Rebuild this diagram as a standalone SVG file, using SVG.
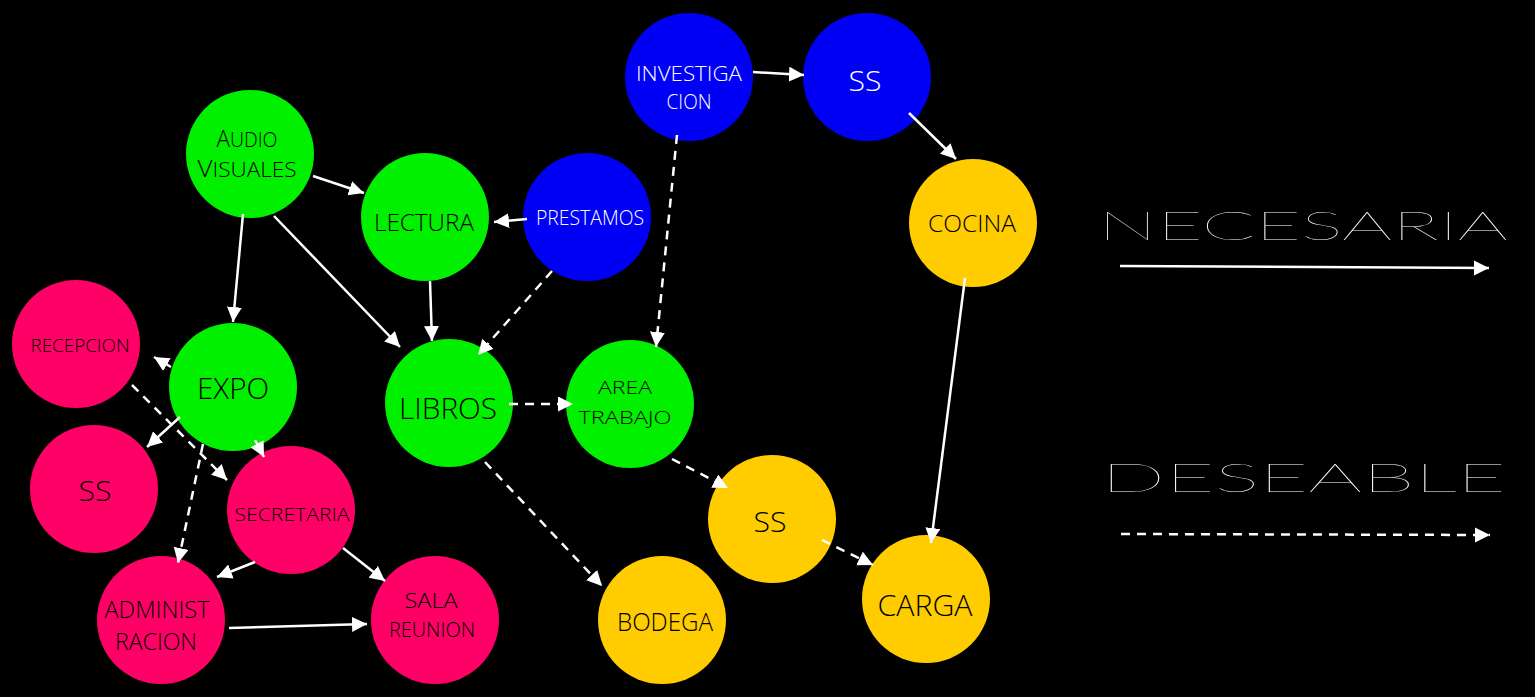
<svg xmlns="http://www.w3.org/2000/svg" width="1535" height="697" viewBox="0 0 1535 697">
<style>
.g{fill:#00f000}
.p{fill:#ff0066}
.b{fill:#0000f5}
.y{fill:#ffcc00}
text{font-family:"Open Sans","Liberation Sans",Arial,sans-serif;font-weight:300;text-anchor:middle;fill:#000}
.w{fill:#fff}
.c{stroke:#fff;stroke-width:2.5;fill:none;marker-end:url(#ah)}
.d{stroke-dasharray:9 7}
.leg{font-family:Lato,"Liberation Sans",sans-serif;font-weight:100;fill:#fff;text-anchor:start}
</style>
<defs>
<marker id="ah" markerUnits="userSpaceOnUse" markerWidth="16" markerHeight="16" refX="15" refY="7.5" orient="auto" viewBox="0 0 16 16">
<path d="M0,0 L15,7.5 L0,15 z" fill="#fff"/>
</marker>
</defs>
<rect width="1535" height="697" fill="#000"/>

<g id="n-audiovisuales"><circle cx="250" cy="154" r="64" class="g"/>
<text x="247" y="147" textLength="61" lengthAdjust="spacingAndGlyphs"><tspan font-size="23">A</tspan><tspan font-size="20">UDIO</tspan></text>
<text x="247" y="177" textLength="99" lengthAdjust="spacingAndGlyphs"><tspan font-size="23">V</tspan><tspan font-size="20">ISUALES</tspan></text></g>
<g id="n-lectura"><circle cx="425" cy="217" r="64" class="g"/>
<text x="424" y="231" font-size="23" textLength="100" lengthAdjust="spacingAndGlyphs">LECTURA</text></g>
<g id="n-prestamos"><circle cx="587" cy="217" r="64" class="b"/>
<text x="590" y="225" font-size="20" class="w" textLength="108" lengthAdjust="spacingAndGlyphs">PRESTAMOS</text></g>
<g id="n-investigacion"><circle cx="689" cy="77" r="64" class="b"/>
<text x="689" y="81" font-size="21" class="w" textLength="106" lengthAdjust="spacingAndGlyphs">INVESTIGA</text>
<text x="689" y="109" font-size="21" class="w" textLength="45" lengthAdjust="spacingAndGlyphs">CION</text></g>
<g id="n-ss-blue"><circle cx="867" cy="77" r="64" class="b"/>
<text x="865" y="91" font-size="28" class="w" textLength="33" lengthAdjust="spacingAndGlyphs">SS</text></g>
<g id="n-cocina"><circle cx="973" cy="223" r="64" class="y"/>
<text x="972" y="232" font-size="24" textLength="88" lengthAdjust="spacingAndGlyphs">COCINA</text></g>
<g id="n-recepcion"><circle cx="76" cy="344" r="64" class="p"/>
<text x="80" y="352" font-size="19" textLength="99" lengthAdjust="spacingAndGlyphs">RECEPCION</text></g>
<g id="n-expo"><circle cx="233" cy="387" r="64" class="g"/>
<text x="233" y="399" font-size="30" textLength="72" lengthAdjust="spacingAndGlyphs">EXPO</text></g>
<g id="n-libros"><circle cx="449" cy="403" r="64" class="g"/>
<text x="448" y="419" font-size="29" textLength="98" lengthAdjust="spacingAndGlyphs">LIBROS</text></g>
<g id="n-area-trabajo"><circle cx="630" cy="404" r="64" class="g"/>
<text x="625" y="394" font-size="19" textLength="54" lengthAdjust="spacingAndGlyphs">AREA</text>
<text x="625" y="424" font-size="19" textLength="93" lengthAdjust="spacingAndGlyphs">TRABAJO</text></g>
<g id="n-ss-pink"><circle cx="94" cy="489" r="64" class="p"/>
<text x="95" y="501" font-size="28" textLength="33" lengthAdjust="spacingAndGlyphs">SS</text></g>
<g id="n-secretaria"><circle cx="291" cy="510" r="64" class="p"/>
<text x="292" y="521" font-size="19" textLength="115" lengthAdjust="spacingAndGlyphs">SECRETARIA</text></g>
<g id="n-administracion"><circle cx="161" cy="620" r="64" class="p"/>
<text x="157" y="618" font-size="23" textLength="105" lengthAdjust="spacingAndGlyphs">ADMINIST</text>
<text x="156" y="650" font-size="23" textLength="82" lengthAdjust="spacingAndGlyphs">RACION</text></g>
<g id="n-sala-reunion"><circle cx="435" cy="620" r="64" class="p"/>
<text x="431" y="608" font-size="20" textLength="53" lengthAdjust="spacingAndGlyphs">SALA</text>
<text x="432" y="637" font-size="20" textLength="86" lengthAdjust="spacingAndGlyphs">REUNION</text></g>
<g id="n-ss-yellow"><circle cx="772" cy="519" r="64" class="y"/>
<text x="770" y="532" font-size="28" textLength="33" lengthAdjust="spacingAndGlyphs">SS</text></g>
<g id="n-bodega"><circle cx="662" cy="620" r="64" class="y"/>
<text x="665" y="631" font-size="25" textLength="96" lengthAdjust="spacingAndGlyphs">BODEGA</text></g>
<g id="n-carga"><circle cx="926" cy="599" r="64" class="y"/>
<text x="925" y="616" font-size="30" textLength="95" lengthAdjust="spacingAndGlyphs">CARGA</text></g>

<g id="connectors">
<line class="c" x1="313" y1="176" x2="364" y2="193"/>
<line class="c" x1="243" y1="214" x2="233" y2="322"/>
<line class="c" x1="274" y1="216" x2="400" y2="347"/>
<line class="c" x1="430" y1="281" x2="432" y2="341"/>
<line class="c" x1="527" y1="219" x2="494" y2="222"/>
<line class="c" x1="753" y1="72" x2="804" y2="75"/>
<line class="c" x1="909" y1="113" x2="956" y2="159"/>
<line class="c" x1="965" y1="278" x2="931" y2="543"/>
<line class="c" x1="180" y1="417" x2="147" y2="447"/>
<line class="c" x1="255" y1="440" x2="264" y2="457"/>
<line class="c" x1="255" y1="562" x2="217" y2="577"/>
<line class="c" x1="343" y1="548" x2="385" y2="581"/>
<line class="c" x1="229" y1="628" x2="367" y2="624"/>
<line class="c" x1="171" y1="367" x2="154" y2="357"/>
<line class="c d" x1="132" y1="385" x2="227" y2="480"/>
<line class="c d" x1="203" y1="444" x2="178" y2="563"/>
<line class="c d" x1="552" y1="271" x2="478" y2="355"/>
<line class="c d" x1="677" y1="135" x2="656" y2="347"/>
<line class="c d" x1="509" y1="404" x2="573" y2="404"/>
<line class="c d" x1="485" y1="462" x2="602" y2="586"/>
<line class="c d" x1="672" y1="459" x2="728" y2="488"/>
<line class="c d" x1="822" y1="540" x2="873" y2="565"/>
</g>

<g id="legend">
<text class="leg" x="1098" y="240" font-size="40" textLength="410" lengthAdjust="spacingAndGlyphs">NECESARIA</text>
<line class="c" x1="1120" y1="266" x2="1489" y2="268"/>
<text class="leg" x="1101" y="492" font-size="40" textLength="405" lengthAdjust="spacingAndGlyphs">DESEABLE</text>
<line class="c d" x1="1121" y1="534" x2="1490" y2="535"/>
</g>
</svg>
